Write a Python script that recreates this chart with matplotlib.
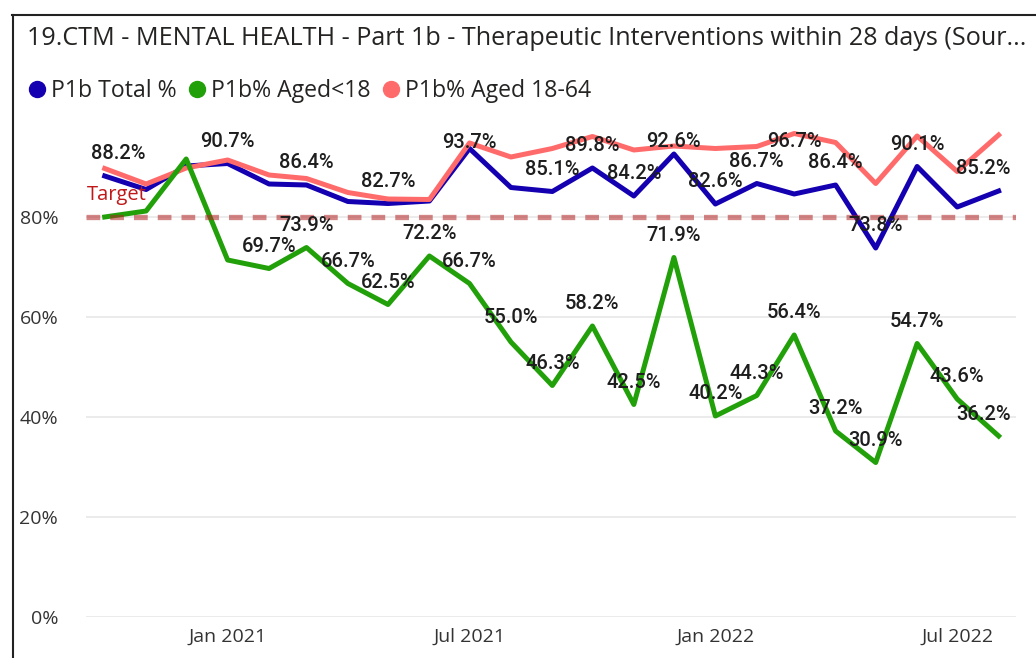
import matplotlib
matplotlib.use('Agg')
import matplotlib.pyplot as plt
import matplotlib.dates as mdates
from matplotlib.lines import Line2D
import pandas as pd

# data (monthly, Oct 2020 - Aug 2022)
months = pd.date_range('2020-10-01', '2022-08-01', freq='MS')

totalPct = [88.2, 85.5, 90.2, 90.7, 86.6, 86.4, 83.1, 82.7, 83.2, 93.7, 85.9, 85.1,
            89.8, 84.2, 92.6, 82.6, 86.7, 84.6, 86.4, 73.8, 90.1, 82.0, 85.2]
under18Pct = [80.0, 81.2, 91.6, 71.4, 69.7, 73.9, 66.7, 62.5, 72.2, 66.7, 55.0, 46.3,
              58.2, 42.5, 71.9, 40.2, 44.3, 56.4, 37.2, 30.9, 54.7, 43.6, 36.2]
aged1864Pct = [89.7, 86.6, 89.8, 91.4, 88.4, 87.7, 84.9, 83.6, 83.5, 94.8, 92.0, 93.7,
               96.1, 93.4, 94.2, 93.7, 94.1, 96.7, 94.9, 86.7, 96.2, 89.1, 96.4]
targetPct = 80

# which points carry a data label
totalLabelIdx = [0, 3, 5, 7, 9, 11, 12, 13, 14, 15, 16, 18, 19, 20, 22]
under18LabelIdx = list(range(4, 23))
aged1864LabelIdx = [17]

seriesNames = ['P1b Total %', 'P1b% Aged<18', 'P1b% Aged 18-64']
seriesColors = ['#1400B0', '#22A00A', '#FF6B6B']

# label offsets in pixels where Power BI moved them
specialOffsets = {
    ('total', 0): (14, 22),
    ('total', 9): (0, 6),
    ('total', 14): (0, 12),
    ('total', 22): (-15, 22),
    ('aged', 17): (0, -8),
    ('under', 10): (0, 24),
    ('under', 22): (-15, 21),
}

uiFont = 'Open Sans'
labelFont = 'Roboto'
textColor = '#333333'

# figure
fig = plt.figure(figsize=(10.36, 6.58), dpi=100)
ax = fig.add_axes([86/1036, 1 - 617/658, (1016-86)/1036, 500/658])

# gridlines and target
for v in [0, 20, 40, 60, 80]:
    ax.axhline(v, color='#E9E9E9', lw=1.3, zorder=0)

ax.plot(months, totalPct, color=seriesColors[0], lw=3.6, zorder=2, solid_joinstyle='round')
ax.plot(months, aged1864Pct, color=seriesColors[2], lw=3.6, zorder=3, solid_joinstyle='round')
ax.plot(months, under18Pct, color=seriesColors[1], lw=3.6, zorder=4, solid_joinstyle='round')
ax.axhline(targetPct, color='#B22222', alpha=0.55, lw=3.8, ls=(0, (2.6, 1.9)), zorder=5)

# target label
trans = ax.get_yaxis_transform()
ax.annotate('Target', xy=(0.0, targetPct), xycoords=trans, xytext=(1, 17),
            textcoords='offset pixels', ha='left', va='baseline',
            color='#C01818', fontsize=14.5, family=uiFont)

# data labels
def add_labels(key, values, idxList):
    for i in idxList:
        off = specialOffsets.get((key, i), (0, 22))
        ax.annotate('%.1f%%' % values[i], xy=(months[i], values[i]), xytext=off,
                    textcoords='offset pixels', ha='center', va='center',
                    fontsize=14.5, family=labelFont, fontweight='medium',
                    color='#1E1E1E', zorder=6)

add_labels('total', totalPct, totalLabelIdx)
add_labels('under', under18Pct, under18LabelIdx)
add_labels('aged', aged1864Pct, aged1864LabelIdx)

# axes
ax.set_ylim(0, 100)
ax.set_yticks([0, 20, 40, 60, 80])
ax.set_yticklabels(['%d%%' % v for v in [0, 20, 40, 60, 80]])
ax.set_xlim(pd.Timestamp('2020-09-17'), pd.Timestamp('2022-08-14'))
ax.set_xticks(pd.to_datetime(['2021-01-01', '2021-07-01', '2022-01-01', '2022-07-01']))
ax.xaxis.set_major_formatter(mdates.DateFormatter('%b %Y'))
ax.tick_params(length=0, labelsize=14, labelcolor=textColor)
ax.tick_params(axis='y', pad=20)
ax.tick_params(axis='x', pad=8)
for lab in ax.get_xticklabels() + ax.get_yticklabels():
    lab.set_family(uiFont)
for s in ax.spines.values():
    s.set_visible(False)

# title and legend
fig.text(27/1036, 1 - 45/658, '19.CTM - MENTAL HEALTH - Part 1b - Therapeutic Interventions within 28 days (Sour...',
         fontsize=18.1, family=uiFont, color='#252423', va='baseline')

handles = [Line2D([], [], ls='none', marker='o', markersize=11.5, color=c) for c in seriesColors]
fig.legend(handles, seriesNames, loc='center left', bbox_to_anchor=(29/1036, 1 - 91/658),
           ncol=3, frameon=False, handlelength=0.7, handletextpad=0.25, columnspacing=0.55,
           borderpad=0, borderaxespad=0, prop={'family': uiFont, 'size': 16.6}, labelcolor='#252423')

# visual border
fig.add_artist(Line2D([12.5/1036, 12.5/1036], [0, 1 - 15/658], transform=fig.transFigure, color='#222222', lw=1.5))
fig.add_artist(Line2D([12/1036, 1], [1 - 15/658, 1 - 15/658], transform=fig.transFigure, color='#222222', lw=1.5))

fig.savefig('out.png', dpi=100)
